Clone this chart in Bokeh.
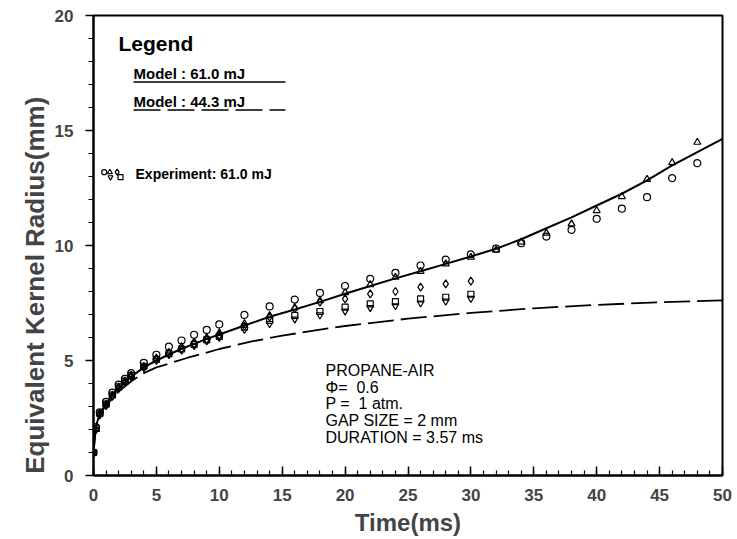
from bokeh.plotting import figure
from bokeh.models import Range1d, FixedTicker
from bokeh.core.properties import value
from bokeh.embed import file_html
from bokeh.resources import INLINE

# ---------------- data ----------------
exp_t = [0, 0.2, 0.5, 1, 1.5, 2, 2.5, 3, 4, 5, 6, 7, 8, 9, 10,
         12, 14, 16, 18, 20, 22, 24, 26, 28, 30]
exp_t_long = exp_t + [32, 34, 36, 38, 40, 42, 44, 46, 48]

exp_circle = [1.0, 2.1, 2.75, 3.2, 3.6, 3.95, 4.2, 4.45, 4.9, 5.25, 5.6, 5.87,
              6.12, 6.33, 6.57, 6.98, 7.35, 7.65, 7.94, 8.24, 8.55, 8.81, 9.13,
              9.39, 9.61, 9.86, 10.1, 10.39, 10.68, 11.16, 11.6, 12.1, 12.93, 13.58]
exp_triangle = [1.0, 2.0, 2.7, 3.1, 3.5, 3.85, 4.1, 4.35, 4.75, 5.1, 5.35, 5.6,
                5.8, 6.0, 6.2, 6.6, 6.95, 7.3, 7.6, 7.95, 8.3, 8.62, 8.88, 9.2,
                9.49, 9.8, 10.15, 10.54, 10.94, 11.52, 12.13, 12.88, 13.6, 14.49]
exp_diamond = [1.0, 2.0, 2.65, 3.05, 3.45, 3.8, 4.05, 4.3, 4.7, 5.05, 5.3, 5.5,
               5.72, 5.92, 6.1, 6.5, 6.9, 7.25, 7.54, 7.68, 7.9, 8.0, 8.19, 8.33, 8.45]
exp_square = [1.0, 2.05, 2.7, 3.1, 3.5, 3.85, 4.1, 4.35, 4.75, 5.05, 5.3, 5.5,
              5.7, 5.9, 6.05, 6.45, 6.74, 6.96, 7.13, 7.32, 7.46, 7.56, 7.68, 7.75, 7.88]
exp_invtri = [1.0, 2.0, 2.65, 3.05, 3.45, 3.8, 4.05, 4.3, 4.7, 5.0, 5.25, 5.45,
              5.65, 5.85, 6.0, 6.35, 6.6, 6.8, 6.98, 7.15, 7.3, 7.38, 7.5, 7.58, 7.7]

model61_t = [0, 0.1, 0.2, 0.5, 1, 1.5, 2, 3, 4, 5, 6, 7, 8, 9, 10, 12, 14, 16, 18,
             20, 22, 24, 26, 28, 30, 32, 34, 36, 38, 40, 42, 44, 46, 48, 50]
model61_r = [1.0, 1.7, 2.15, 2.7, 3.1, 3.5, 3.8, 4.3, 4.7, 5.0, 5.26, 5.51, 5.72,
             5.94, 6.13, 6.52, 6.9, 7.22, 7.55, 7.9, 8.24, 8.57, 8.88, 9.2, 9.52,
             9.86, 10.27, 10.75, 11.22, 11.74, 12.25, 12.83, 13.48, 14.06, 14.64]

model44_t = [0, 0.2, 0.5, 1, 2, 3, 4, 5, 7.5, 10, 12.5, 15, 17.5, 20, 25, 30,
             35, 40, 45, 50]
model44_r = [1.0, 2.1, 2.65, 3.05, 3.65, 4.1, 4.45, 4.7, 5.12, 5.5, 5.82, 6.08,
             6.3, 6.5, 6.82, 7.07, 7.27, 7.42, 7.53, 7.61]

x_major = [0, 5, 10, 15, 20, 25, 30, 35, 40, 45, 50]
x_minor = list(range(0, 51))
y_major = [0, 5, 10, 15, 20]
y_minor = list(range(0, 21))

legend_title = "Legend"
legend_model61 = "Model : 61.0 mJ"
legend_model44 = "Model : 44.3 mJ"
legend_exp = "Experiment: 61.0 mJ"
NB = "\u00a0"
conditions = ["PROPANE-AIR", "\u03a6=" + NB * 2 + "0.6", "P =" + NB * 2 + "1 atm.",
              "GAP SIZE = 2 mm", "DURATION = 3.57 ms"]

FONT = "Liberation Sans"

p = figure(width=737, height=539, x_range=Range1d(0, 50), y_range=Range1d(0, 20),
           output_backend="svg", toolbar_location=None,
           min_border_left=93, min_border_right=15, min_border_top=15,
           min_border_bottom=64)
p.xgrid.visible = False
p.ygrid.visible = False
p.outline_line_color = "black"
p.outline_line_width = 2
p.outline_line_alpha = 1.0

xa = p.xaxis[0]
xa.ticker = FixedTicker(ticks=x_major, minor_ticks=x_minor)
xa.axis_label = "Time(ms)"
xa.axis_label_text_font = FONT
xa.axis_label_text_font_style = "bold"
xa.axis_label_text_font_size = "24px"
xa.axis_label_standoff = 5
xa.major_label_text_font = FONT
xa.major_label_text_font_style = "bold"
xa.major_label_text_font_size = "17px"
xa.major_label_standoff = 13
xa.major_tick_in = 9
xa.major_tick_out = 0
xa.minor_tick_in = 5
xa.minor_tick_out = 0
xa.axis_line_width = 2
xa.major_tick_line_width = 1.5
xa.minor_tick_line_width = 1.2

ya = p.yaxis[0]
ya.ticker = FixedTicker(ticks=y_major, minor_ticks=y_minor)
ya.axis_label = "Equivalent Kernel Radius(mm)" + NB * 11
ya.axis_label_text_font = FONT
ya.axis_label_text_font_style = "bold"
ya.axis_label_text_font_size = "26px"
ya.axis_label_standoff = 2
ya.major_label_text_font = FONT
ya.major_label_text_font_style = "bold"
ya.major_label_text_font_size = "17px"
ya.major_label_standoff = 12
ya.major_tick_in = 0
ya.major_tick_out = 8
ya.minor_tick_in = 0
ya.minor_tick_out = 5
ya.axis_line_width = 2
ya.major_tick_line_width = 1.5
ya.minor_tick_line_width = 1.2

# model curves
p.line(model61_t, model61_r, line_color="black", line_width=2)
p.line(model44_t, model44_r, line_color="black", line_width=1.8, line_dash="26 7")

# experimental points
mk = dict(fill_color=None, line_color="black", line_width=1.2)
p.scatter(exp_t, exp_invtri, marker="inverted_triangle", size=7, **mk)
p.scatter(exp_t, exp_square, marker="square", size=6, **mk)
p.scatter(exp_t, exp_diamond, marker="diamond", size=8, **mk)
p.scatter(exp_t_long, exp_triangle, marker="triangle", size=7, **mk)
p.scatter(exp_t_long, exp_circle, marker="circle", size=7, **mk)


def txt(x, y, s, size, bold=True):
    p.text(x=[x], y=[y], text=[s], text_font=value(FONT),
           text_font_style="bold" if bold else "normal",
           text_font_size=value(size), text_color="black",
           text_baseline="middle", text_align="left")


# ---------- legend block (positions in data units of the frame) ----------
txt(1.99, 18.78, legend_title, "21px")
txt(3.18, 17.46, legend_model61, "15px")
txt(3.18, 16.24, legend_model44, "15px")
p.line([3.18, 15.26], [17.11, 17.11], line_color="black", line_width=1.5)
p.line([3.18, 15.26], [15.89, 15.89], line_color="black", line_width=1.5,
       line_dash="27 7")

lg_y1, lg_y2 = 13.19, 12.97
p.scatter([0.85], [lg_y1], marker="circle", size=5, **mk)
p.scatter([1.30], [lg_y1], marker="triangle", size=5, **mk)
p.scatter([1.88], [lg_y1], marker="diamond", size=6, **mk)
p.scatter([1.35], [lg_y2], marker="inverted_triangle", size=5, **mk)
p.scatter([2.15], [lg_y2], marker="square", size=5, **mk)
txt(3.34, 13.11, legend_exp, "14px")

# conditions text block
for i, s in enumerate(conditions):
    txt(18.44, 4.57 - i * 0.73, s, "16px", bold=False)

open("out.html", "w").write(file_html(p, INLINE))
